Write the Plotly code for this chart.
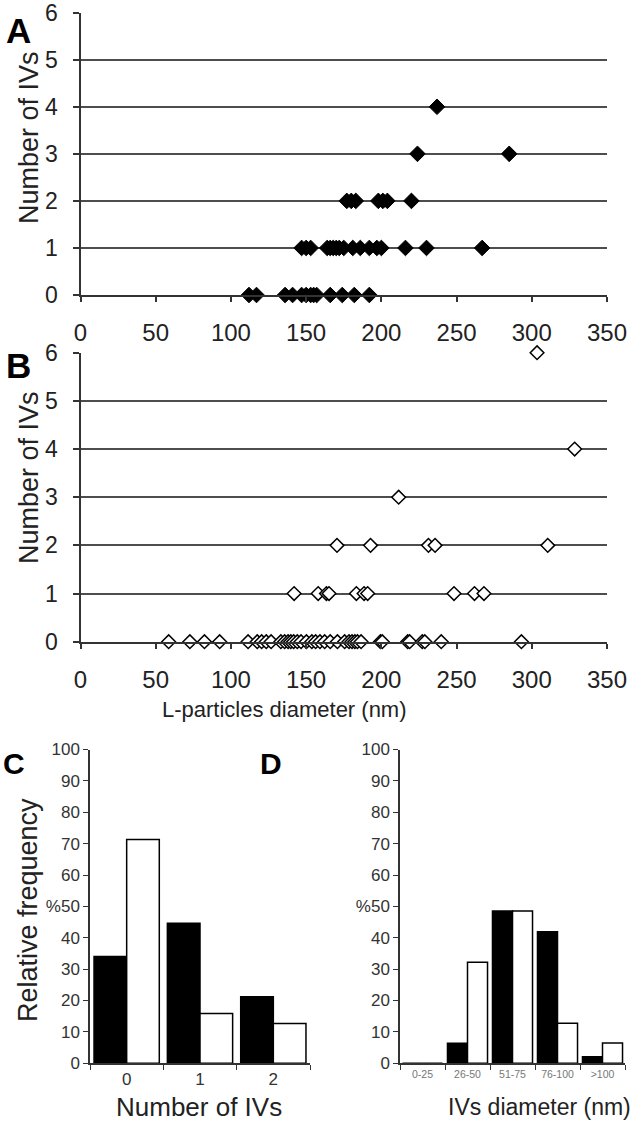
import plotly.graph_objects as go

# ---------------- data ----------------
# Panel A (filled diamonds): L-particle diameter (nm) by number of IVs
a_row0 = [112, 117, 136, 141, 147, 150, 153, 155, 157, 166, 174, 182, 192]
a_row1 = [147, 150, 153, 164, 166, 168, 170, 172, 175, 181, 186, 192, 197, 200, 216, 230, 267]
a_row2 = [177, 180, 183, 198, 201, 204, 220]
a_row3 = [224, 285]
a_row4 = [237]

# Panel B (open diamonds)
b_row0 = [58.6, 72.7, 82.4, 92.5, 111.4, 117.5, 120.4, 123.5, 126.7, 133.2, 135.7, 138, 139.8,
          141.7, 144.1, 146.6, 150.2, 153.8, 156.3, 159.2, 162.3, 166, 170.8, 175.6, 178.5,
          180.5, 182.4, 184.1, 186.5, 199.4, 200.6, 217.5, 218.8, 227.2, 228.9, 239.8, 293.1]
b_row1 = [142, 158, 163.5, 165.2, 183.4, 188.5, 190.9, 248.3, 261.9, 268.2]
b_row2 = [170.5, 192.8, 231.3, 235.7, 310.6]
b_row3 = [211.5]
b_row4 = [328.5]
b_row6 = [303.5]

# Panel C: relative frequency (%) vs number of IVs
c_categories = ["0", "1", "2"]
c_black = [34.0, 44.6, 21.2]
c_white = [71.3, 15.9, 12.7]

# Panel D: relative frequency (%) vs IV diameter
d_categories = ["0-25", "26-50", "51-75", "76-100", ">100"]
d_black = [0, 6.4, 48.5, 41.9, 2.1]
d_white = [0, 32.2, 48.5, 12.8, 6.5]

x_ticks_ab = [0, 50, 100, 150, 200, 250, 300, 350]
y_ticks_ab = [0, 1, 2, 3, 4, 5, 6]
y_ticks_cd = [0, 10, 20, 30, 40, 50, 60, 70, 80, 90, 100]
y_ticktext_cd = ["0", "10", "20", "30", "40", "%50", "60", "70", "80", "90", "100"]

# ---------------- figure ----------------
W, H = 634, 1126
FONT = "Liberation Sans, Arial, sans-serif"


def px_x(p):
    return p / W


def px_y(p):
    return 1 - p / H


fig = go.Figure()

a_rows = [(0, a_row0), (1, a_row1), (2, a_row2), (3, a_row3), (4, a_row4)]
ax_list, ay_list = [], []
for yv, xs in a_rows:
    ax_list += xs
    ay_list += [yv] * len(xs)
fig.add_trace(go.Scatter(
    x=ax_list, y=ay_list, mode="markers", xaxis="x", yaxis="y",
    marker=dict(symbol="diamond", size=12, color="black", line=dict(color="black", width=1)),
    cliponaxis=False, showlegend=False))

b_rows = [(0, b_row0), (1, b_row1), (2, b_row2), (3, b_row3), (4, b_row4), (6, b_row6)]
bx_list, by_list = [], []
for yv, xs in b_rows:
    bx_list += xs
    by_list += [yv] * len(xs)
fig.add_trace(go.Scatter(
    x=bx_list, y=by_list, mode="markers", xaxis="x2", yaxis="y2",
    marker=dict(symbol="diamond", size=10.5, color="white", line=dict(color="black", width=1.5)),
    cliponaxis=False, showlegend=False))

bar_line = dict(color="black", width=1.5)
fig.add_trace(go.Bar(x=c_categories, y=c_black, xaxis="x3", yaxis="y3",
                     marker=dict(color="black", line=bar_line), showlegend=False))
fig.add_trace(go.Bar(x=c_categories, y=c_white, xaxis="x3", yaxis="y3",
                     marker=dict(color="white", line=bar_line), showlegend=False))
fig.add_trace(go.Bar(x=d_categories, y=d_black, xaxis="x4", yaxis="y4",
                     marker=dict(color="black", line=bar_line), showlegend=False))
fig.add_trace(go.Bar(x=d_categories, y=d_white, xaxis="x4", yaxis="y4",
                     marker=dict(color="white", line=bar_line), showlegend=False))

grid_col = "#4d4d4d"
ab_x = dict(range=[0, 350], tickvals=x_ticks_ab, ticks="outside", ticklen=5, tickwidth=1.5,
            tickcolor="#333", showline=True, linecolor="#333", linewidth=2,
            showgrid=False, zeroline=False, ticklabelstandoff=10, automargin=False,
            ticklabeloverflow="allow",
            tickfont=dict(size=24, color="#222", family=FONT))
ab_y = dict(range=[0, 6], tickvals=y_ticks_ab, ticks="outside", ticklen=6, tickwidth=1.5,
            tickcolor="#333", showline=True, linecolor="#333", linewidth=2,
            showgrid=True, gridcolor=grid_col, gridwidth=2, zeroline=False,
            ticklabelstandoff=10, automargin=False, ticklabeloverflow="allow",
            tickfont=dict(size=23, color="#222", family=FONT))

cd_y = dict(range=[0, 100], tickvals=y_ticks_cd, ticktext=y_ticktext_cd, ticks="outside",
            ticklen=5, tickwidth=1.2, tickcolor="#333", showline=True, linecolor="#333",
            linewidth=1.5, showgrid=False, zeroline=False, automargin=False,
            ticklabeloverflow="allow",
            tickfont=dict(size=17, color="#333", family=FONT))

fig.update_layout(
    width=W, height=H, margin=dict(l=0, r=0, t=0, b=0, pad=0, autoexpand=False),
    paper_bgcolor="white", plot_bgcolor="white",
    font=dict(family=FONT, color="#222"),
    barmode="group", bargap=0.11, bargroupgap=0,
    xaxis=dict(domain=[px_x(80.5), px_x(607)], anchor="y", **ab_x),
    yaxis=dict(domain=[px_y(295), px_y(12.7)], anchor="x", **ab_y),
    xaxis2=dict(domain=[px_x(80.5), px_x(607)], anchor="y2", **ab_x),
    yaxis2=dict(domain=[px_y(641.7), px_y(352.7)], anchor="x2", **ab_y),
    xaxis3=dict(domain=[px_x(90), px_x(310)], anchor="y3", type="category",
                range=[-0.5, 2.5], tickson="boundaries", ticks="outside", ticklen=5,
                tickwidth=1.2, tickcolor="#333", showline=True, linecolor="#333", linewidth=1.5,
                showgrid=False, zeroline=False, tickangle=0, automargin=False,
                tickfont=dict(size=17, color="#333", family=FONT)),
    yaxis3=dict(domain=[px_y(1063.3), px_y(749.5)], anchor="x3", **cd_y),
    xaxis4=dict(domain=[px_x(400), px_x(625)], anchor="y4", type="category",
                range=[-0.5, 4.5], tickson="boundaries", ticks="outside", ticklen=5,
                tickwidth=1.2, tickcolor="#333", showline=True, linecolor="#333", linewidth=1.5,
                showgrid=False, zeroline=False, tickangle=0, automargin=False,
                tickfont=dict(size=10.5, color="#777", family=FONT)),
    yaxis4=dict(domain=[px_y(1063.3), px_y(749.5)], anchor="x4", **cd_y),
)


def ann(text, xp, yp, size, angle=0, bold=False, color="#222"):
    fig.add_annotation(
        text=f"<b>{text}</b>" if bold else text,
        x=px_x(xp), y=px_y(yp), xref="paper", yref="paper",
        xanchor="center", yanchor="middle", showarrow=False, textangle=angle,
        font=dict(size=size, color=color, family=FONT))


ann("A", 18, 30, 35, bold=True, color="black")
ann("B", 18, 366, 35, bold=True, color="black")
ann("C", 14, 763, 30, bold=True, color="black")
ann("D", 271, 763, 30, bold=True, color="black")

ann("Number of IVs", 29, 138, 27, angle=-90)
ann("Number of IVs", 29, 478, 27, angle=-90)
ann("L-particles diameter (nm)", 284, 710, 22)
ann("Relative frequency", 28, 910, 27, angle=-90)
ann("Number of IVs", 199, 1107, 26)
ann("IVs diameter (nm)", 539, 1107, 23)

fig.write_html("out.html", config={"displayModeBar": False},
               post_script="document.body.style.margin='0';document.body.style.overflow='hidden';")
